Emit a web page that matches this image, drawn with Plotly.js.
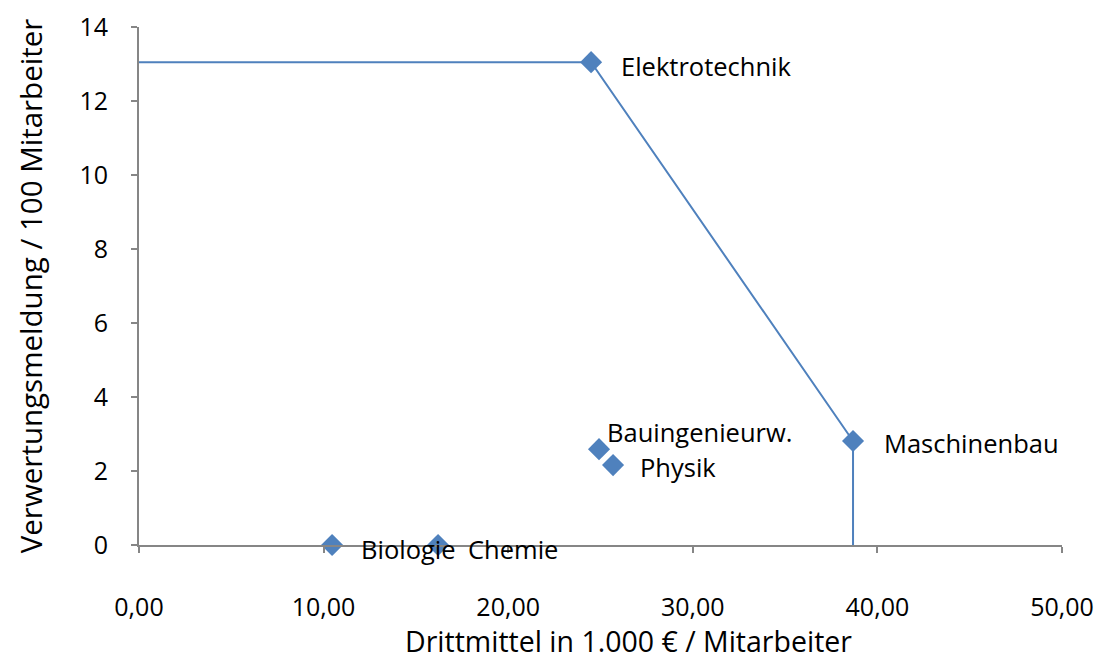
<!DOCTYPE html>
<html><head><meta charset="utf-8">
<script src="https://cdn.plot.ly/plotly-3.0.1.min.js"></script>
<style>html,body{margin:0;padding:0;background:#fff;}</style>
</head><body>
<div id="chart" style="width:1098px;height:661px;"></div>
<script>
const faculties = ["Elektrotechnik", "Maschinenbau", "Bauingenieurw.", "Physik", "Biologie", "Chemie"];
const drittmittel = [24.49, 38.68, 24.92, 25.68, 10.46, 16.20];
const verwertung = [13.05, 2.81, 2.59, 2.16, 0.0, 0.0];
const frontierX = [0, 24.49, 38.68, 38.68];
const frontierY = [13.05, 13.05, 2.81, 0];
const xTicks = [0, 10, 20, 30, 40, 50];
const xTickLabels = ["0,00", "10,00", "20,00", "30,00", "40,00", "50,00"];
const yTicks = [0, 2, 4, 6, 8, 10, 12, 14];
const xTitle = "Drittmittel in 1.000 € / Mitarbeiter";
const yTitle = "Verwertungsmeldung / 100 Mitarbeiter";

const blue = "#4f81bd";
const font = "'Open Sans', Lato, sans-serif";

const labelShift = {
  "Elektrotechnik": [28, -4],
  "Maschinenbau": [29, -2],
  "Bauingenieurw.": [6, 17],
  "Physik": [25, -2],
  "Biologie": [27, -4],
  "Chemie": [28, -4]
};

const traces = [
  {x: frontierX, y: frontierY, mode: "lines", line: {color: blue, width: 2}, hoverinfo: "skip", cliponaxis: false},
  {x: drittmittel, y: verwertung, mode: "markers", marker: {symbol: "diamond", size: 17, color: blue}, text: faculties, cliponaxis: false}
];

const annotations = faculties.map((f, i) => ({
  x: drittmittel[i], y: verwertung[i], xref: "x", yref: "y",
  text: f, showarrow: false, xanchor: "left", yanchor: "middle",
  xshift: labelShift[f][0], yshift: labelShift[f][1],
  font: {family: font, size: 25.5, color: "#000"}
}));
annotations.push({
  text: xTitle, xref: "paper", yref: "paper", x: 0.53, y: -0.185,
  xanchor: "center", yanchor: "middle", showarrow: false,
  font: {family: font, size: 28.5, color: "#000"}
});

const layout = {
  width: 1098, height: 661,
  margin: {l: 139, r: 36, t: 27, b: 116},
  paper_bgcolor: "#fff", plot_bgcolor: "#fff",
  showlegend: false,
  font: {family: font, size: 22, color: "#000"},
  xaxis: {
    range: [0, 50], tickvals: xTicks, ticktext: xTickLabels,
    showgrid: false, zeroline: false, showline: true, linecolor: "#868686", linewidth: 2,
    ticks: "outside", ticklen: 6, tickwidth: 2, tickcolor: "#868686",
    ticklabelstandoff: 33,
    tickfont: {family: font, size: 25, color: "#000"}
  },
  yaxis: {
    range: [0, 14], tickvals: yTicks,
    showgrid: false, zeroline: false, showline: true, linecolor: "#868686", linewidth: 2,
    ticks: "outside", ticklen: 6, tickwidth: 2, tickcolor: "#868686",
    ticklabelstandoff: 18,
    tickfont: {family: font, size: 25, color: "#000"},
    title: {text: yTitle, font: {family: font, size: 29.5, color: "#000"}, standoff: 28}
  },
  annotations: annotations
};

Plotly.newPlot("chart", traces, layout, {displayModeBar: false, staticPlot: true});
</script>
</body></html>
